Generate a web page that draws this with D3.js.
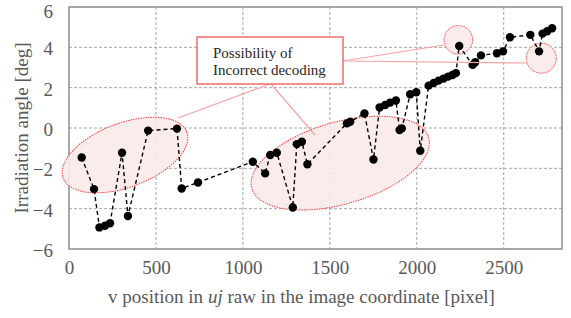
<!DOCTYPE html>
<html>
<head>
<meta charset="utf-8">
<script src="https://cdn.jsdelivr.net/npm/d3@7"></script>
<style>
  body { margin: 0; background: #fff; }
  svg { display: block; font-family: "Liberation Serif", "Times New Roman", serif; }
</style>
</head>
<body>
<div id="chart"></div>
<script>
"use strict";

// v position [pixel] and irradiation angle [deg]
const vPos = [73, 144, 175, 207, 236, 305, 339, 455, 621, 648,
    742, 1057, 1128, 1157, 1195, 1287, 1310, 1339, 1371, 1598,
    1617, 1699, 1751, 1786, 1818, 1847, 1880, 1901, 1914, 1962,
    1997, 2020, 2068, 2097, 2125, 2154, 2180, 2205, 2225, 2244,
    2321, 2336, 2369, 2461, 2496, 2536, 2653, 2703, 2723, 2750, 2778];
const angle = [-1.46, -3.03, -4.93, -4.85, -4.72, -1.23, -4.36, -0.13, -0.03, -3.0,
    -2.7, -1.67, -2.25, -1.34, -1.23, -3.94, -0.8, -0.68, -1.8, 0.23,
    0.31, 0.72, -1.56, 1.02, 1.14, 1.26, 1.36, -0.1, -0.02, 1.67,
    1.77, -1.13, 2.1, 2.23, 2.35, 2.45, 2.55, 2.63, 2.72, 4.07,
    3.13, 3.26, 3.6, 3.71, 3.8, 4.5, 4.62, 3.8, 4.68, 4.8, 4.95];

const xTicks = [0, 500, 1000, 1500, 2000, 2500];
const yTicks = [-6, -4, -2, 0, 2, 4, 6];

// highlighted regions (centre in data units)
const regionV = [322, 1560, 2239, 2716];
const regionA = [-1.34, -1.74, 4.37, 3.46];

const W = 571, H = 318;
const plot = { left: 69, right: 562, top: 7, bottom: 249 };

const x = d3.scaleLinear().domain([0, 2835]).range([plot.left, plot.right]);
const y = d3.scaleLinear().domain([-6, 6]).range([plot.bottom, plot.top]);

const svg = d3.select("#chart").append("svg")
    .attr("width", W).attr("height", H);

const gridColor = "#a6a6a6";
const textColor = "#595959";

// Grid
svg.append("g").selectAll("line")
    .data(xTicks.filter(d => d > 0))
    .join("line")
    .attr("x1", d => x(d)).attr("x2", d => x(d))
    .attr("y1", plot.top).attr("y2", plot.bottom)
    .attr("stroke", gridColor).attr("stroke-dasharray", "3,2");

svg.append("g").selectAll("line")
    .data(yTicks.filter(d => d > -6 && d < 6))
    .join("line")
    .attr("x1", plot.left).attr("x2", plot.right)
    .attr("y1", d => y(d)).attr("y2", d => y(d))
    .attr("stroke", gridColor).attr("stroke-dasharray", "3,2");

// Frame
svg.append("rect")
    .attr("x", plot.left).attr("y", plot.top)
    .attr("width", plot.right - plot.left).attr("height", plot.bottom - plot.top)
    .attr("fill", "none").attr("stroke", "#8c8c8c").attr("stroke-width", 1.5);

// Axes (labels only, no tick marks)
const xAxis = svg.append("g")
    .attr("transform", `translate(0,${plot.bottom})`)
    .call(d3.axisBottom(x).tickValues(xTicks).tickFormat(d3.format("d")).tickSize(0).tickPadding(12));
const yAxis = svg.append("g")
    .attr("transform", `translate(${plot.left},0)`)
    .call(d3.axisLeft(y).tickValues(yTicks).tickFormat(d3.format("d")).tickSize(0).tickPadding(16));
[xAxis, yAxis].forEach(g => {
    g.select(".domain").remove();
    g.selectAll("text")
        .attr("fill", textColor)
        .style("font-family", "Liberation Serif, serif")
        .style("font-size", "19px");
});
// top label sits right at the edge, nudge it down a little
yAxis.selectAll("text").attr("dy", d => d === 6 ? "0.56em" : "0.4em");

// Highlight ellipses
const ell = svg.append("g");
const ellStyle = sel => sel
    .attr("fill", "#fbeaea")
    .attr("fill-opacity", 0.9)
    .attr("stroke", "#f04040")
    .attr("stroke-width", 1)
    .attr("stroke-dasharray", "1.5,1");

ell.append("ellipse")
    .attr("transform", `translate(${x(regionV[0])},${y(regionA[0])}) rotate(-20.4)`)
    .attr("rx", 66).attr("ry", 32)
    .call(ellStyle);
ell.append("ellipse")
    .attr("transform", `translate(${x(regionV[1])},${y(regionA[1])}) rotate(-16)`)
    .attr("rx", 92).attr("ry", 41)
    .call(ellStyle);
ell.append("circle")
    .attr("cx", x(regionV[2])).attr("cy", y(regionA[2])).attr("r", 14.3)
    .call(ellStyle);
ell.append("circle")
    .attr("cx", x(regionV[3])).attr("cy", y(regionA[3])).attr("r", 15)
    .call(ellStyle);

// Data line + points
const pts = vPos.map((v, i) => [v, angle[i]]);
svg.append("path")
    .datum(pts)
    .attr("d", d3.line().x(d => x(d[0])).y(d => y(d[1])))
    .attr("fill", "none")
    .attr("stroke", "#000")
    .attr("stroke-width", 1.4)
    .attr("stroke-dasharray", "4,3");

svg.append("g").selectAll("circle")
    .data(pts)
    .join("circle")
    .attr("cx", d => x(d[0]))
    .attr("cy", d => y(d[1]))
    .attr("r", 4.2)
    .attr("fill", "#000");

// Callout
const leader = "#f4a3a3";
const box = { x: 197, y: 37, w: 146, h: 47 };
const callouts = [
    [[270, box.y + box.h], [178, 118]],
    [[271, box.y + box.h], [315, 135]],
    [[box.x + box.w, 61], [444, 45]],
    [[box.x + box.w, 61], [527, 63]]
];
svg.append("g").selectAll("line")
    .data(callouts)
    .join("line")
    .attr("x1", d => d[0][0]).attr("y1", d => d[0][1])
    .attr("x2", d => d[1][0]).attr("y2", d => d[1][1])
    .attr("stroke", leader).attr("stroke-width", 1.2);

svg.append("rect")
    .attr("x", box.x).attr("y", box.y)
    .attr("width", box.w).attr("height", box.h)
    .attr("fill", "#fff")
    .attr("stroke", "#f06b6b").attr("stroke-width", 1.5);

const boxText = svg.append("text")
    .attr("fill", "#262626")
    .style("font-size", "15px");
boxText.append("tspan").attr("x", 213).attr("y", 58).text("Possibility of");
boxText.append("tspan").attr("x", 213).attr("y", 75).text("Incorrect decoding");

// Axis titles
const xTitle = svg.append("text")
    .attr("x", 301.5).attr("y", 303)
    .attr("text-anchor", "middle")
    .attr("fill", textColor)
    .style("font-size", "19px");
xTitle.append("tspan").text("v position in ");
xTitle.append("tspan").style("font-style", "italic").text("uj");
xTitle.append("tspan").text(" raw in the image coordinate [pixel]");

svg.append("text")
    .attr("transform", `translate(28,${y(0)}) rotate(-90)`)
    .attr("text-anchor", "middle")
    .attr("fill", textColor)
    .style("font-size", "19px")
    .text("Irradiation angle [deg]");
</script>
</body>
</html>
